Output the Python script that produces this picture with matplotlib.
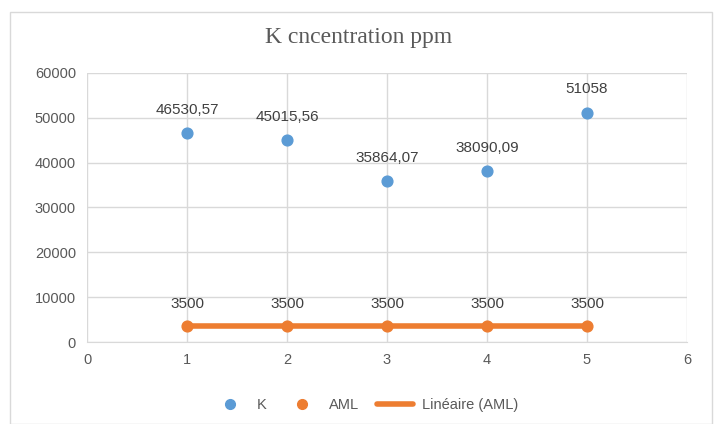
import matplotlib
matplotlib.use("Agg")
import matplotlib.pyplot as plt
from matplotlib.patches import Rectangle
from matplotlib.lines import Line2D

x = [1, 2, 3, 4, 5]
k_values = [46530.57, 45015.56, 35864.07, 38090.09, 51058]
k_labels = ["46530,57", "45015,56", "35864,07", "38090,09", "51058"]
aml_values = [3500, 3500, 3500, 3500, 3500]
aml_labels = ["3500", "3500", "3500", "3500", "3500"]

blue = "#5B9BD5"
orange = "#ED7D31"
txt = "#595959"
grid = "#D9D9D9"

fig = plt.figure(figsize=(7.18, 4.24), dpi=100)
fig.patches.append(Rectangle((10/718, 0.0), 702/718, 1 - 12/424, transform=fig.transFigure,
                             fill=False, edgecolor="#D9D9D9", linewidth=1))
ax = fig.add_axes([87/718, 1 - 342/424, 600/718, 269/424])

ax.plot(x, aml_values, color=orange, linewidth=4, solid_capstyle="round", zorder=2)
ax.scatter(x, aml_values, color=orange, s=60, zorder=3)
ax.scatter(x, k_values, color=blue, s=60, zorder=3)

for xi, v, l in zip(x, k_values, k_labels):
    ax.annotate(l, (xi, v), xytext=(0, 12), textcoords="offset points", ha="center", va="bottom",
                fontsize=11, color="#404040", family="Liberation Sans")
for xi, v, l in zip(x, aml_values, aml_labels):
    ax.annotate(l, (xi, v), xytext=(0, 11), textcoords="offset points", ha="center", va="bottom",
                fontsize=11, color="#404040", family="Liberation Sans")

ax.set_xlim(0, 6)
ax.set_ylim(0, 60000)
ax.set_xticks(range(0, 7))
ax.set_yticks(range(0, 60001, 10000))
ax.grid(True, color=grid, linewidth=1)
ax.set_axisbelow(True)
for s in ["top", "right", "left"]:
    ax.spines[s].set_visible(False)
ax.spines["bottom"].set_color(grid)
ax.tick_params(length=0, labelsize=10.5, labelcolor=txt, pad=8)
for lab in ax.get_xticklabels() + ax.get_yticklabels():
    lab.set_family("Liberation Sans")

fig.text(0.5, 1 - 38/424, "K cncentration ppm", ha="center", va="center",
         fontsize=17, color="#595959", family="Liberation Serif")

handles = [
    Line2D([], [], marker="o", linestyle="none", color=blue, markersize=7),
    Line2D([], [], marker="o", linestyle="none", color=orange, markersize=7),
    Line2D([], [], color=orange, linewidth=4, solid_capstyle="round"),
]
leg = fig.legend(handles, ["K", "AML", "Linéaire (AML)"], loc="center", bbox_to_anchor=(365/718, 1 - 405/424),
                 ncol=3, frameon=False, handlelength=2.5, handletextpad=0.6, columnspacing=1.2,
                 prop={"family": "Liberation Sans", "size": 10.5})
for t in leg.get_texts():
    t.set_color(txt)

fig.savefig("out.png", dpi=100)
